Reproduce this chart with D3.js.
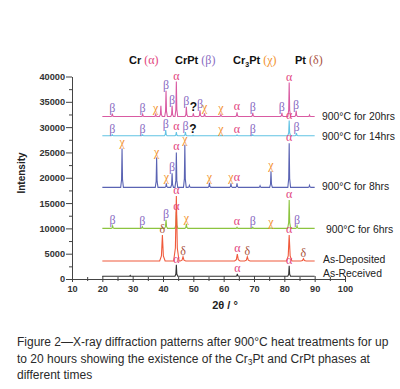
<!DOCTYPE html>
<html lang="en">
<head>
<meta charset="UTF-8">
<title>XRD patterns</title>
<script src="https://d3js.org/d3.v7.min.js"></script>
<style>
  body { margin: 0; background: #fff; }
  svg { display: block; }
</style>
</head>
<body>
<div id="chart"></div>
<script>
// series, top to bottom
const seriesNames = ["900°C for 20hrs", "900°C for 14hrs", "900°C for 8hrs", "900°C for 6hrs", "As-Deposited", "As-Received"];
const baselines = [32100, 28300, 18100, 10000, 3550, 530];
const seriesColors = ["#d95aa2", "#62c3e4", "#5a63b3", "#8cc43f", "#f05a3c", "#333333"];

// peaks: [2theta, top intensity, phase]  (a=Cr, b=CrPt, c=Cr3Pt, d=Pt, q=unknown, ""=no label)
const peaks20h = [[23.3, 32650, "b"], [33.3, 32550, "b"], [37.6, 32500, "c"], [39.3, 34200, ""], [41.0, 37200, "b"],
  [43.0, 34200, "b"], [44.4, 39000, "a"], [47.7, 34000, "b"], [50.0, 32700, "q"], [52.2, 33300, "b"],
  [53.7, 32700, "c"], [59.1, 32500, "c"], [64.4, 32900, "a"], [69.6, 32800, "b"], [79.2, 32800, "b"],
  [81.6, 38800, "a"], [83.9, 33200, "b"], [88.3, 32400, ""]];
const peaks14h = [[23.3, 28500, "b"], [33.3, 28500, "b"], [40.9, 29400, "b"], [44.4, 29000, "a"], [47.4, 29000, "b"],
  [49.9, 28400, "q"], [59.1, 28400, "c"], [64.4, 28450, "a"], [69.6, 28500, "b"], [81.6, 31300, "a"], [84.0, 28800, "b"]];
const peaks8h = [[26.5, 25800, "c"], [37.9, 24000, "c"], [41.1, 18900, "c"], [43.0, 20900, "b"], [44.4, 25000, "a"],
  [47.2, 26500, "c"], [48.7, 18500, ""], [55.3, 19000, "c"], [62.4, 18900, "c"], [64.4, 18900, "a"], [72.0, 18400, ""],
  [75.6, 21300, "c"], [81.6, 26800, "a"], [88.3, 18500, ""]];
const peaks6h = [[23.4, 10500, "b"], [33.2, 10300, "b"], [41.0, 11700, "b"], [44.4, 13300, "a"], [47.7, 10900, "c"],
  [64.4, 10200, "a"], [69.6, 10200, "b"], [75.6, 10100, "c"], [81.6, 15600, "a"], [84.2, 10500, "b"]];
const peaksDep = [[39.8, 8700, "d"], [44.4, 16400, "a"], [46.6, 4400, "d"], [64.5, 4900, "a"], [67.8, 4400, "d"],
  [81.6, 8700, "a"], [86.3, 4000, "d"]];
const peaksRec = [[29.2, 700, ""], [44.4, 2800, "a"], [64.5, 1000, "a"], [81.6, 2600, "a"]];
const allPeaks = [peaks20h, peaks14h, peaks8h, peaks6h, peaksDep, peaksRec];
const peakWidths = [0.45, 0.45, 0.45, 0.5, 0.9, 0.45];

const phaseSymbols = { a: "α", b: "β", c: "χ", d: "δ", q: "?" };
const phaseColors = { a: "#e2457e", b: "#8a6cc2", c: "#f2922e", d: "#a9513b", q: "#111" };

const legendNames = ["Cr", "CrPt", "Cr3Pt", "Pt"];
const legendPhases = ["a", "b", "c", "d"];

const xTicks = d3.range(10, 101, 5);
const yTicks = d3.range(0, 40001, 2500);

const W = 400, H = 389;
const x = d3.scaleLinear().domain([10, 100]).range([72, 345]);
const y = d3.scaleLinear().domain([0, 40000]).range([279, 76.5]);

const svg = d3.select("#chart").append("svg")
  .attr("width", W).attr("height", H)
  .style("font-family", "'Liberation Sans', Arial, sans-serif");

// axes
const yAxis = svg.append("g")
  .attr("transform", `translate(${x(10)},0)`)
  .call(d3.axisLeft(y).tickValues(yTicks).tickSizeOuter(0)
    .tickFormat(d => d % 5000 === 0 ? d3.format("d")(d) : ""));
yAxis.selectAll(".tick line").attr("x2", d => d % 5000 === 0 ? -6 : -3);
const xAxis = svg.append("g")
  .attr("transform", `translate(0,${y(0)})`)
  .call(d3.axisBottom(x).tickValues(xTicks).tickSizeOuter(0)
    .tickFormat(d => d % 10 === 0 ? d : ""));
xAxis.selectAll(".tick line").attr("y1", d => d % 10 === 0 ? -3 : -2).attr("y2", d => d % 10 === 0 ? 3 : 2);
svg.selectAll(".domain, .tick line").attr("stroke", "#444").attr("stroke-width", 1);
svg.selectAll(".tick text").attr("fill", "#333").style("font-size", "9.2px").style("font-weight", "bold")
  .style("font-family", "'Liberation Sans', Arial, sans-serif");
yAxis.selectAll(".tick text").attr("x", -7);
xAxis.selectAll(".tick text").attr("y", 6);

svg.append("text")
  .attr("transform", `translate(25,173) rotate(-90)`)
  .attr("text-anchor", "middle")
  .style("font-size", "10px").style("font-weight", "bold").attr("fill", "#222")
  .text("Intensity");
svg.append("text")
  .attr("x", 225).attr("y", 309).attr("text-anchor", "middle")
  .style("font-size", "11px").style("font-weight", "bold").attr("fill", "#222")
  .text("2θ / °");

// patterns
const line = d3.line().x(d => x(d[0])).y(d => y(d[1]));
allPeaks.forEach((pk, i) => {
  const base = baselines[i], w = peakWidths[i];
  const pts = [[20, base]];
  pk.forEach(p => {
    const h = p[1] - base;
    pts.push([p[0] - w, base], [p[0] - w * 0.35, base + h * 0.2], [p[0], p[1]],
      [p[0] + w * 0.35, base + h * 0.2], [p[0] + w, base]);
  });
  pts.push([90, base]);
  svg.append("path").datum(pts)
    .attr("d", line).attr("fill", "none")
    .attr("stroke", seriesColors[i]).attr("stroke-width", 1.1);
});

// phase markers
allPeaks.forEach(pk => {
  pk.filter(p => p[2]).forEach(p => {
    svg.append("text")
      .attr("x", x(p[0])).attr("y", y(p[1]) - 2)
      .attr("text-anchor", "middle")
      .attr("fill", phaseColors[p[2]])
      .style("font-family", p[2] === "q" ? "'Liberation Sans', Arial, sans-serif" : "'Liberation Serif', serif")
      .style("font-weight", p[2] === "q" ? "bold" : "normal")
      .style("font-size", "12px")
      .text(phaseSymbols[p[2]]);
  });
});

// series labels
const labelX = [322, 322, 322, 326, 323, 323];
const labelY = [120, 140, 190, 233, 263, 277];
seriesNames.forEach((n, i) => {
  svg.append("text").attr("x", labelX[i]).attr("y", labelY[i])
    .style("font-size", "10.4px").attr("fill", "#222").text(n);
});

// phase legend
const legendX = [129, 175, 233, 295];
legendNames.forEach((n, i) => {
  const t = svg.append("text").attr("x", legendX[i]).attr("y", 64)
    .style("font-size", "11px").style("font-weight", "bold").attr("fill", "#111");
  if (n === "Cr3Pt") {
    t.append("tspan").text("Cr");
    t.append("tspan").attr("dy", 2.5).style("font-size", "7px").text("3");
    t.append("tspan").attr("dy", -2.5).text("Pt ");
  } else {
    t.append("tspan").text(n + " ");
  }
  t.append("tspan").attr("fill", phaseColors[legendPhases[i]]).style("font-weight", "normal")
    .style("font-family", "'Liberation Serif', serif").style("font-size", "12px")
    .text("(" + phaseSymbols[legendPhases[i]] + ")");
});

// caption
const caption = svg.append("g").attr("fill", "#2a2a2a").style("font-size", "12px");
caption.append("text").attr("x", 17).attr("y", 346)
  .text("Figure 2—X-ray diffraction patterns after 900°C heat treatments for up");
const c2 = caption.append("text").attr("x", 17).attr("y", 362.5);
c2.append("tspan").text("to 20 hours showing the existence of the Cr");
c2.append("tspan").attr("dy", 2.5).style("font-size", "8.5px").text("3");
c2.append("tspan").attr("dy", -2.5).text("Pt and CrPt phases at");
caption.append("text").attr("x", 17).attr("y", 379).text("different times");
</script>
</body>
</html>
